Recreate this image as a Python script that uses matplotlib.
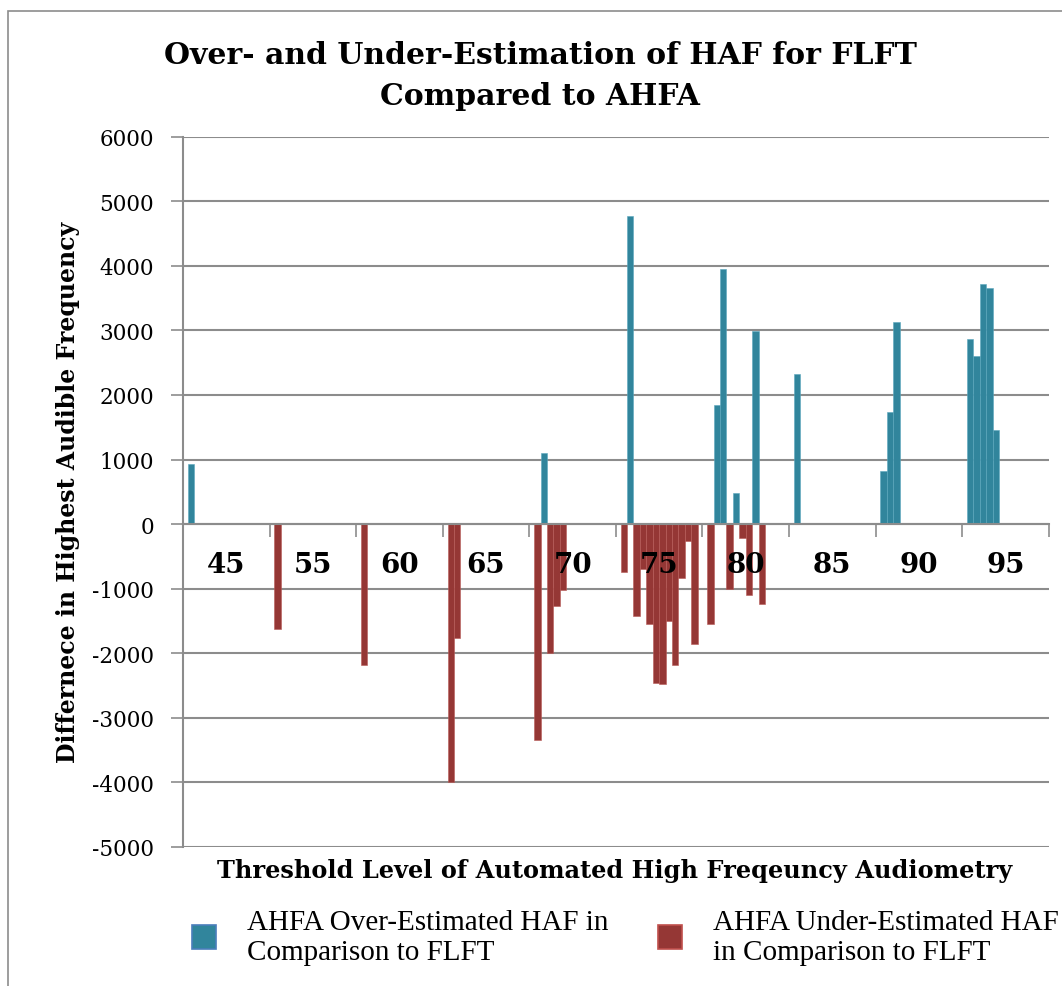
import numpy as np
import matplotlib
matplotlib.use("Agg")
import matplotlib.pyplot as plt
from matplotlib.patches import Rectangle, Patch

# ---------------- data ----------------
categories = ["45", "55", "60", "65", "70", "75", "80", "85", "90", "95"]
v45 = [930]
v55 = [-1620]
v60 = [-2180]
v65 = [-4000, -1770]
v70 = [-3340, 1100, -2000, -1270, -1020]
v75 = [-735, 4770, -1430, -690, -1540, -2465, -2480, -1500, -2180, -830, -260, -1850]
v80 = [-1540, 1845, 3950, -1000, 480, -210, -1095, 2990, -1230]
v85 = [2325]
v90 = [826, 1740, 3137]
v95 = [2868, 2604, 3721, 3659, 1457]
values_by_category = [v45, v55, v60, v65, v70, v75, v80, v85, v90, v95]

title = "Over- and Under-Estimation of HAF for FLFT\nCompared to AHFA"
xlabel = "Threshold Level of Automated High Freqeuncy Audiometry"
ylabel = "Differnece in Highest Audible Frequency"
over_label = "AHFA Over-Estimated HAF in\nComparison to FLFT"
under_label = "AHFA Under-Estimated HAF\nin Comparison to FLFT"
yticks = list(range(-5000, 6001, 1000))

# ---------------- style ----------------
BLUE = "#31859C"
RED = "#953735"
GRID = "#8c8c8c"
SERIF = ["DejaVu Serif"]
LEG_FONT = ["Liberation Serif", "DejaVu Serif"]

W, H = 1062, 987
fig = plt.figure(figsize=(W / 100, H / 100), dpi=100)
fig.patch.set_facecolor("white")

# outer chart frame
fig.add_artist(Rectangle((8 / W, -0.1), 2.0, 0.1 + (H - 12) / H,
                         transform=fig.transFigure, fill=False,
                         edgecolor="#8c8c8c", lw=1.2))

ax = fig.add_axes([183 / W, (H - 848) / H, (1048.7 - 183) / W, (848 - 137.7) / H])

n_slots = 12
gap = 1.5
w = 1.0 / (n_slots + gap)
xs, ys = [], []
for c, vals in enumerate(values_by_category):
    for k, v in enumerate(vals):
        xs.append(c + (gap / 2 + k + 0.5) * w)
        ys.append(v)
xs = np.array(xs)
ys = np.array(ys)
pos = ys > 0

ax.bar(xs[pos], ys[pos], width=w, color=BLUE, edgecolor="#5aa7bd",
       linewidth=0.4, zorder=1)
ax.bar(xs[~pos], ys[~pos], width=w, color=RED, edgecolor="#b85a57",
       linewidth=0.4, zorder=1)

for t in yticks:
    ax.axhline(t, color=GRID, lw=1.5, zorder=0.5)

ax.set_xlim(0, len(categories))
ax.set_ylim(-5000, 6000)
ax.set_yticks(yticks)
ax.set_yticklabels([str(t) for t in yticks], fontdict={"family": SERIF, "size": 15.5})
ax.tick_params(axis="y", length=9, width=1.2, color=GRID, pad=12)

# category boundary ticks on the zero axis
ax.set_xticks(np.arange(0, len(categories) + 1))
ax.set_xticklabels([])
ax.tick_params(axis="x", which="major", length=9, width=1.2, color=GRID,
               direction="out")

# category labels next to the zero axis (drawn over the bars)
for c, lab in enumerate(categories):
    ax.annotate(lab, xy=(c + 0.5, 0), xycoords="data",
                xytext=(0, -29), textcoords="offset points",
                ha="center", va="center", family=SERIF, fontsize=20,
                fontweight="bold", zorder=3, annotation_clip=False)

for s in ["top", "right"]:
    ax.spines[s].set_visible(False)
ax.spines["left"].set_color(GRID)
ax.spines["left"].set_linewidth(1.5)
ax.spines["bottom"].set_position(("data", 0))
ax.spines["bottom"].set_color(GRID)
ax.spines["bottom"].set_linewidth(1.5)
ax.set_facecolor("none")

# titles
fig.text(540 / W, (H - 41) / H, title, ha="center", va="top",
         family=SERIF, fontsize=21.5, fontweight="bold", linespacing=1.53)
fig.text(615 / W, (H - 871) / H, xlabel, ha="center", va="center",
         family=SERIF, fontsize=17.3, fontweight="bold")
fig.text(68 / W, (H - 492) / H, ylabel, ha="center", va="center",
         rotation=90, family=SERIF, fontsize=17, fontweight="bold")

# legends
leg_kw = dict(loc="center left", frameon=False, borderpad=0,
              borderaxespad=0, handlelength=0.82, handleheight=0.9,
              handletextpad=1.05, prop={"family": LEG_FONT, "size": 21})
h1 = Patch(facecolor=BLUE, edgecolor="#4a7ebb", linewidth=1.2)
h2 = Patch(facecolor=RED, edgecolor="#c0504d", linewidth=1.2)
leg1 = fig.legend([h1], [over_label], bbox_to_anchor=(192 / W, (H - 938) / H),
                  bbox_transform=fig.transFigure, **leg_kw)
leg2 = fig.legend([h2], [under_label], bbox_to_anchor=(658 / W, (H - 938) / H),
                  bbox_transform=fig.transFigure, **leg_kw)

fig.savefig("out.png", dpi=100)
